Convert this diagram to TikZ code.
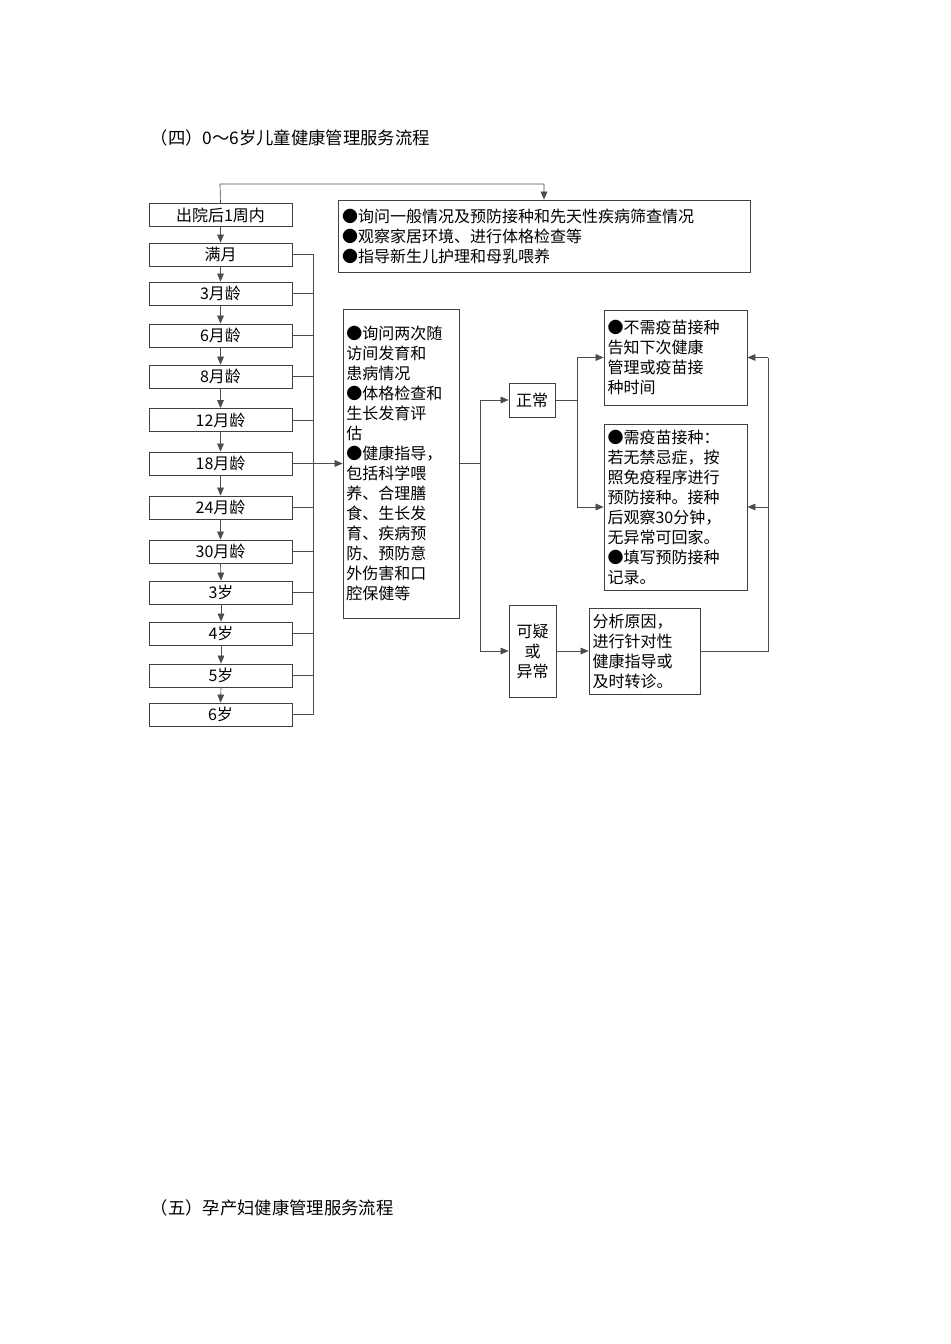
\documentclass[tikz,border=0pt]{standalone}
\usepackage{fontspec}
\newfontfamily\cjk{Noto Sans CJK SC}
\usetikzlibrary{arrows.meta}
\begin{document}
\begin{tikzpicture}[x=0.75pt,y=-0.75pt,
  box/.style={draw=black!75, line width=0.6pt, inner sep=2pt, font=\cjk\fontsize{12}{15}\selectfont, align=left},
  age/.style={box, minimum width=107.25pt, minimum height=17.25pt, align=center},
  ln/.style={draw=black!70, line width=0.5pt},
  arr/.style={ln, -{Triangle[length=6pt,width=5pt]}},
  ttl/.style={font=\cjk\fontsize{13}{15}\selectfont, anchor=west}]
\useasboundingbox (0,0) rectangle (950,1344);
\node[ttl] (t1) at (146,138) {（四）0～6岁儿童健康管理服务流程};
\node[ttl] (t2) at (146,1208) {（五）孕产妇健康管理服务流程};
% left column
\node[age] (a0) at (220.5,215) {出院后1周内};
\node[age] (a1) at (220.5,254.5) {满月};
\node[age] (a2) at (220.5,293.5) {3月龄};
\node[age] (a3) at (220.5,335.5) {6月龄};
\node[age] (a4) at (220.5,376.5) {8月龄};
\node[age] (a5) at (220.5,420) {12月龄};
\node[age] (a6) at (220.5,463.5) {18月龄};
\node[age] (a7) at (220.5,507.5) {24月龄};
\node[age] (a8) at (220.5,551.5) {30月龄};
\node[age] (a9) at (221,592.5) {3岁};
\node[age] (a10) at (221,633.5) {4岁};
\node[age] (a11) at (221,675.5) {5岁};
\node[age] (a12) at (220.5,714.5) {6岁};
\foreach \i [evaluate=\i as \j using int(\i+1)] in {0,...,11}
  \draw[arr] (a\i.south) -- (a\j.north);
% top box
\node[box, minimum width=309pt, minimum height=54pt, text width=303pt] (top) at (544,236)
  {●询问一般情况及预防接种和先天性疾病筛查情况\\●观察家居环境、进行体格检查等\\●指导新生儿护理和母乳喂养};
\coordinate (tl) at (220,184);
\draw[arr] (a0.north) -- (tl) -- (tl -| top.north) -- (top.north);
% middle box
\node[box, minimum width=87pt, minimum height=231.75pt, text width=82pt, font=\cjk\fontsize{12}{15}\selectfont] (mid) at (401,463.5)
  {●询问两次随\\访间发育和\\患病情况\\●体格检查和\\生长发育评\\估\\●健康指导，\\包括科学喂\\养、合理膳\\食、生长发\\育、疾病预\\防、预防意\\外伤害和口\\腔保健等};
\coordinate (bus) at (313,463.5);
\foreach \i in {1,...,12} \draw[ln] (a\i.east) -- (a\i.east -| bus);
\draw[ln] (a1.east -| bus) -- (a12.east -| bus);
\draw[arr] (a6.east) -- (mid.west);
% branch
\node[box, minimum width=34.5pt, minimum height=25.5pt, align=center] (ok) at (532,400) {正常};
\node[box, minimum width=35.25pt, minimum height=69pt, align=center] (ab) at (532.5,651) {可疑\\或\\异常};
\coordinate (br) at (480,463.5);
\draw[ln] (mid.east |- br) -- (br);
\draw[arr] (br) |- (ok.west);
\draw[arr] (br) |- (ab.west);
\node[box, minimum width=107.25pt, minimum height=71.25pt, text width=102pt] (n1) at (675.5,357.5)
  {●不需疫苗接种\\告知下次健康\\管理或疫苗接\\种时间};
\node[box, minimum width=107.25pt, minimum height=124.5pt, text width=102pt] (n2) at (675.5,507)
  {●需疫苗接种：\\若无禁忌症，按\\照免疫程序进行\\预防接种。接种\\后观察30分钟，\\无异常可回家。\\●填写预防接种\\记录。};
\node[box, minimum width=83.25pt, minimum height=64.5pt, text width=78pt] (an) at (644.5,651)
  {分析原因，\\进行针对性\\健康指导或\\及时转诊。};
\coordinate (br2) at (577,400);
\draw[ln] (ok.east) -- (br2);
\draw[arr] (br2) |- (n1.west);
\draw[arr] (br2) |- (n2.west);
\draw[arr] (ab.east) -- (an.west);
\coordinate (rb) at (768,651);
\draw[ln] (an.east) -- (rb) -- (rb |- n1.east);
\draw[arr] (rb |- n1.east) -- (n1.east);
\draw[arr] (rb |- n2.east) -- (n2.east);
\end{tikzpicture}
\end{document}
